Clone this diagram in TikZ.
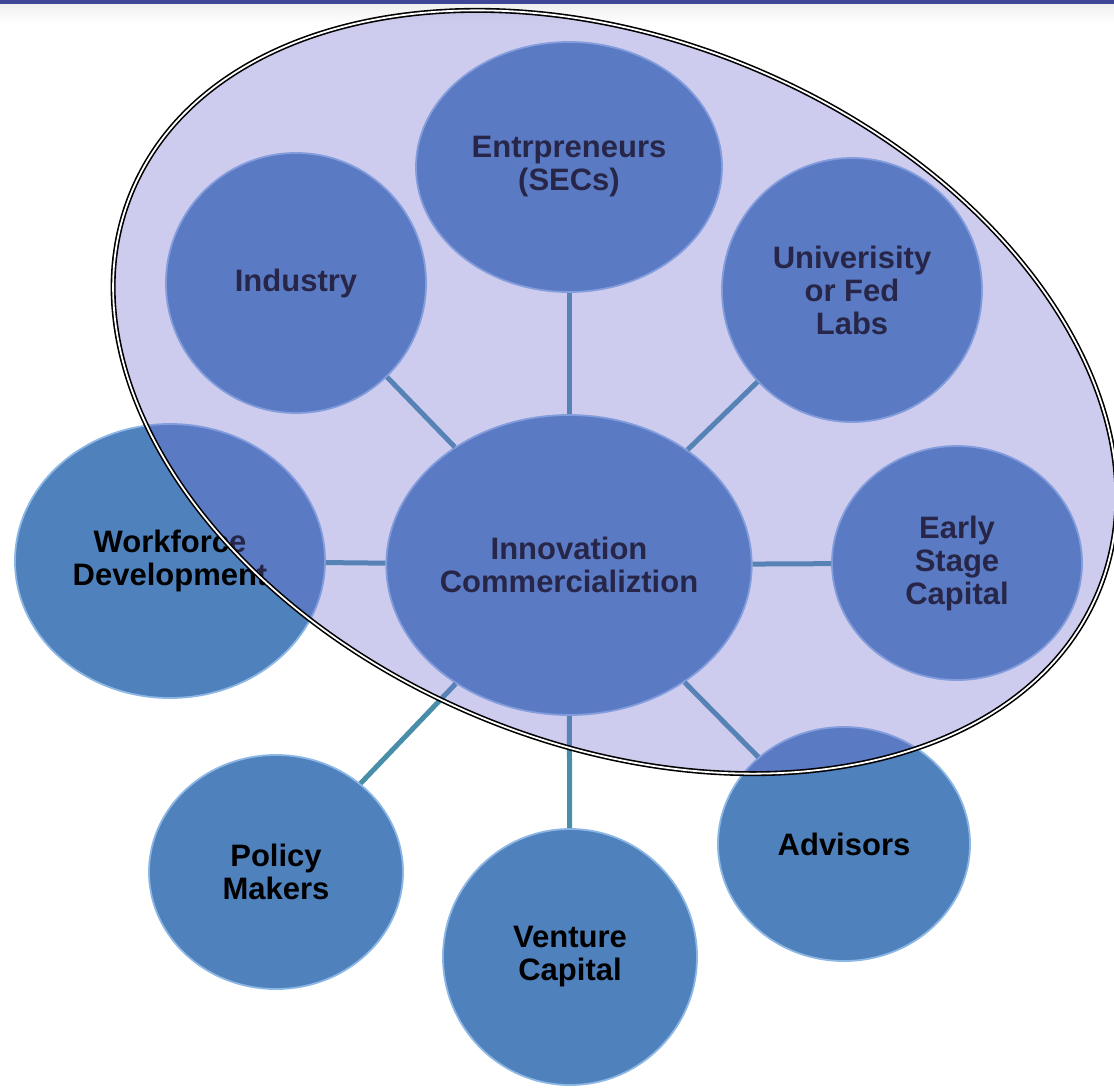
\documentclass[tikz,border=0pt]{standalone}
\usepackage{fontspec}
\setmainfont{Liberation Sans}
\usetikzlibrary{shapes.geometric}
\definecolor{ballfill}{RGB}{79,129,189}
\definecolor{ballrim}{RGB}{140,182,228}
\definecolor{spokecol}{RGB}{72,142,168}
\definecolor{halocol}{RGB}{113,110,207}
\definecolor{barcol}{RGB}{62,72,150}
\tikzstyle{ball}  = [ellipse, draw=ballrim, fill=ballfill, line width=0.9pt, inner sep=0pt, align=center, font=\bfseries\fontsize{15.5}{16.5}\selectfont]
\tikzstyle{spoke} = [draw=spokecol, line width=2.5pt]
\tikzstyle{halo}  = [draw=black, line width=0.8pt, double=white, double distance=0.9pt]

\begin{document}
\begin{tikzpicture}[x=0.5pt, y=0.5pt]
    \useasboundingbox (0,0) rectangle (1114,-1088);
    % slide header strip
    \shade[top color=black!6, bottom color=white] (0,-4) rectangle (1114,-24);
    \fill[barcol] (0,0) rectangle (1114,-4);

    \node[ball, minimum width=181pt, minimum height=150pt] (inno) at (569,-565) {Innovation\\Commercializtion};
    \node[ball, minimum width=153pt, minimum height=125pt] (entre) at (569,-167) {Entrpreneurs\\(SECs)};
    \node[ball, minimum width=130pt, minimum height=130pt] (industry) at (296,-283) {Industry};
    \node[ball, minimum width=130pt, minimum height=132pt] (univ) at (852,-290) {Univerisity\\or Fed\\Labs};
    \node[ball, minimum width=125pt, minimum height=117pt] (early) at (957,-563) {Early\\Stage\\Capital};
    \node[ball, minimum width=155pt, minimum height=137pt] (workforce) at (170,-561) {Workforce\\Development};
    \node[ball, minimum width=126pt, minimum height=117pt] (advisors) at (844,-844) {Advisors};
    \node[ball, minimum width=127pt, minimum height=128pt] (venture) at (570,-957) {Venture\\Capital};
    \node[ball, minimum width=127pt, minimum height=117pt] (policy) at (276,-872) {Policy\\Makers};

    \foreach \n in {entre, industry, univ, early, workforce, advisors, venture, policy}
        \path[spoke] (inno) -- (\n);

    % the cluster
    \fill[halocol, fill opacity=0.35, rotate around={-22.4:(615,-392)}] (615,-392) ellipse [x radius=523, y radius=352];
    \path[halo, rotate around={-22.4:(615,-392)}] (615,-392) ellipse [x radius=523, y radius=352];
\end{tikzpicture}
\end{document}
